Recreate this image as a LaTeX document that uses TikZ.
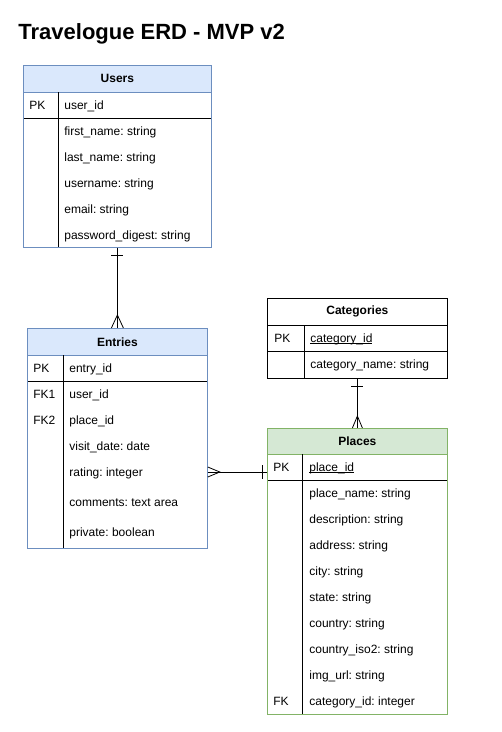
\documentclass[tikz,border=0pt]{standalone}
\usepackage{fontspec}
\setmainfont{Liberation Sans}
\usetikzlibrary{calc}
\frenchspacing
\definecolor{bluefill}{HTML}{DAE8FC}
\definecolor{blueline}{HTML}{6C8EBF}
\definecolor{greenfill}{HTML}{D5E8D4}
\definecolor{greenline}{HTML}{82B366}
\newcommand{\myul}[1]{\setbox0\hbox{#1}\rlap{\rule[-1.6pt]{\wd0}{0.6pt}}\box0}
\begin{document}
\begin{tikzpicture}[x=1pt,y=-1pt,
  font=\fontsize{12}{14}\selectfont,
  line width=0.8pt,
  box/.style={draw=#1, fill=none, inner sep=0pt, anchor=north west},
  hdr/.style={fill=#1, inner sep=0pt, anchor=north west, font=\bfseries\fontsize{12}{14}\selectfont},
  field/.style={inner sep=0pt, anchor=base west},
  conn/.style={draw=black, line width=0.8pt}
]
\useasboundingbox[fill=white] (0,0) rectangle (502,732);

% Title
\node[anchor=base west, inner sep=0pt, font=\bfseries\fontsize{22}{26}\selectfont] (title) at (18,39) {Travelogue ERD - MVP v2};

% ---------------- Users ----------------
\node[hdr=bluefill, minimum width=188pt, minimum height=27pt] (usersH) at (23,65) {Users};
\draw[blueline] (23,92) -- (211,92);
\draw[black] (23,118) -- (211,118);
\draw[black] (58,92) -- (58,247);
\node[box=blueline, minimum width=188pt, minimum height=182pt] (users) at (23,65) {};
\node[field] (upk) at (29,109) {PK};
\node[field] (u0) at (64,109) {user\_id};
\node[field] (u1) at (64,135) {first\_name: string};
\node[field] (u2) at (64,161) {last\_name: string};
\node[field] (u3) at (64,187) {username: string};
\node[field] (u4) at (64,213) {email: string};
\node[field] (u5) at (64,239) {password\_digest: string};

% ---------------- Entries ----------------
\node[hdr=bluefill, minimum width=180pt, minimum height=27pt] (entriesH) at (27,328) {Entries};
\draw[blueline] (27,355) -- (207,355);
\draw[black] (27,381) -- (207,381);
\draw[black] (63,355) -- (63,548);
\node[box=blueline, minimum width=180pt, minimum height=220pt] (entries) at (27,328) {};
\node[field] (epk) at (33,372) {PK};
\node[field] (e0) at (69,372) {entry\_id};
\node[field] (efk1) at (33,398) {FK1};
\node[field] (e1) at (69,398) {user\_id};
\node[field] (efk2) at (33,424) {FK2};
\node[field] (e2) at (69,424) {place\_id};
\node[field] (e3) at (69,450) {visit\_date: date};
\node[field] (e4) at (69,476) {rating: integer};
\node[field] (e5) at (69,506) {comments: text area};
\node[field] (e6) at (69,536) {private: boolean};
\coordinate (erow) at (117,472);

% ---------------- Categories ----------------
\node[hdr=white, minimum width=180pt, minimum height=27pt] (catH) at (267,298) {Categories};
\draw[black] (267,325) -- (447,325);
\draw[black] (267,351) -- (447,351);
\draw[black] (304,325) -- (304,378);
\node[box=black, minimum width=180pt, minimum height=80pt] (cat) at (267,298) {};
\node[field] (cpk) at (274,342) {PK};
\node[field] (c0) at (310,342) {\myul{category\_id}};
\node[field] (c1) at (310,368) {category\_name: string};

% ---------------- Places ----------------
\node[hdr=greenfill, minimum width=180pt, minimum height=26pt] (placesH) at (267,428) {Places};
\draw[greenline] (267,454) -- (447,454);
\draw[black] (267,480) -- (447,480);
\draw[black] (302,454) -- (302,714);
\node[box=greenline, minimum width=180pt, minimum height=286pt] (places) at (267,428) {};
\node[field] (ppk) at (273,471) {PK};
\node[field] (p0) at (309,471) {\myul{place\_id}};
\node[field] (p1) at (309,497) {place\_name: string};
\node[field] (p2) at (309,523) {description: string};
\node[field] (p3) at (309,549) {address: string};
\node[field] (p4) at (309,575) {city: string};
\node[field] (p5) at (309,601) {state: string};
\node[field] (p6) at (309,627) {country: string};
\node[field] (p7) at (309,653) {country\_iso2: string};
\node[field] (p8) at (309,679) {img\_url: string};
\node[field] (pfk) at (273,705) {FK};
\node[field] (p9) at (309,705) {category\_id: integer};

% ---------------- Connectors ----------------
% Users (one) -- Entries (many)
\draw[conn] (users.south) -- (entries.north);
\draw[conn] ($(users.south)+(-6,8)$) -- ($(users.south)+(6,8)$);
\draw[conn] ($(entries.north)+(-6,0)$) -- ($(entries.north)+(0,-13)$) -- ($(entries.north)+(6,0)$);

% Categories (one) -- Places (many)
\draw[conn] (cat.south) -- (places.north);
\draw[conn] ($(cat.south)+(-6,8)$) -- ($(cat.south)+(6,8)$);
\draw[conn] ($(places.north)+(-5,0)$) -- ($(places.north)+(0,-12)$) -- ($(places.north)+(5,0)$);

% Entries (many) -- Places (one)
\draw[conn] (entries.east |- erow) -- (places.west |- erow);
\draw[conn] ($(entries.east |- erow)+(0,-5)$) -- ($(entries.east |- erow)+(12,0)$) -- ($(entries.east |- erow)+(0,5)$);
\draw[conn] ($(places.west |- erow)+(-5,-7)$) -- ($(places.west |- erow)+(-5,7)$);
\end{tikzpicture}
\end{document}
